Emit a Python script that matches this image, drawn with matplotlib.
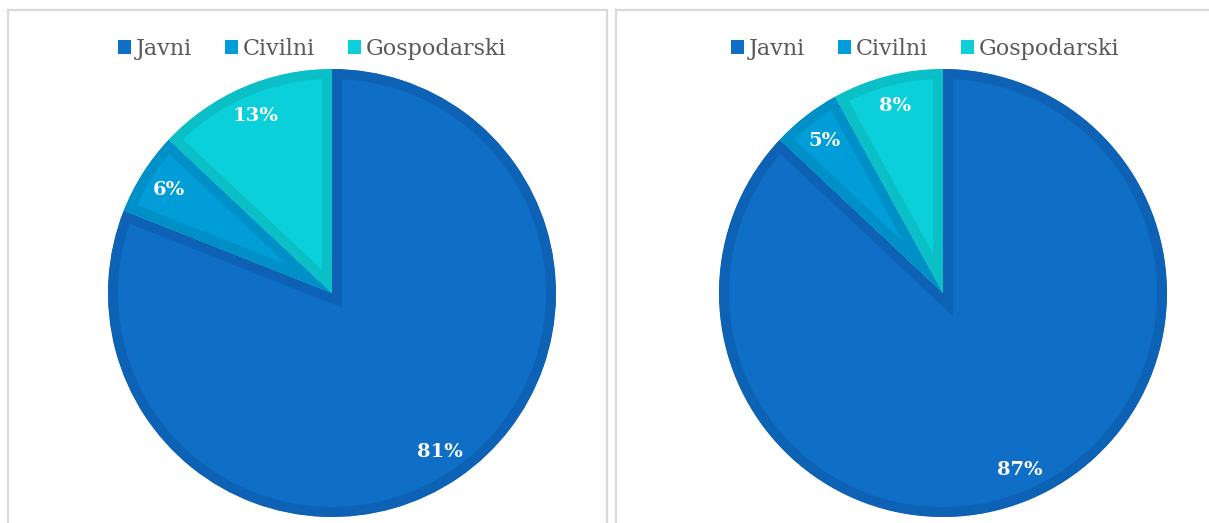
import matplotlib
matplotlib.use("Agg")
import matplotlib.pyplot as plt
from matplotlib.patches import Rectangle, Patch

# data
categories = ["Javni", "Civilni", "Gospodarski"]
left_values = [81, 6, 13]
right_values = [87, 5, 8]

fill_colors = ["#0F6FC6", "#009DD9", "#0BD0D9"]
edge_colors = ["#0D62B5", "#0090C8", "#0ABFC6"]

W, H = 1209, 523
fig = plt.figure(figsize=(W / 100, H / 100), dpi=100)
plt.rcParams["font.family"] = ["DejaVu Serif"]


def px(x, y, w, h):
    # pixel box (top-left origin) -> figure fraction
    return [x / W, 1 - (y + h) / H, w / W, h / H]


# panel frames
for x0, x1 in [(8, 607), (616, 1240)]:
    fig.patches.append(Rectangle((x0 / W, -0.1), (x1 - x0) / W, (H - 10) / H + 0.1,
                                 transform=fig.transFigure, fill=False,
                                 edgecolor="#D9D9D9", linewidth=1.6))


def draw_pie(values, center_x, legend_x):
    r = 224
    ax = fig.add_axes(px(center_x - r, 293 - r, 2 * r, 2 * r))
    wedges, texts, autotexts = ax.pie(
        values, colors=fill_colors, startangle=90, counterclock=False,
        radius=1.0, autopct=lambda p: f"{p:.0f}%", pctdistance=0.86,
        wedgeprops=dict(linewidth=14.4, joinstyle="miter"),
        textprops=dict(color="white", fontsize=14, fontweight="bold"))
    # inset border: clip each wedge's stroke to the wedge itself
    for w, ec in zip(wedges, edge_colors):
        w.set_edgecolor(ec)
        w.set_clip_on(True)
        w.set_clip_path(w)
    ax.set_xlim(-1, 1)
    ax.set_ylim(-1, 1)
    ax.set_aspect("equal")
    ax.axis("off")

    handles = [Patch(facecolor=c, edgecolor="none") for c in fill_colors]
    fig.legend(handles, categories, loc="center", ncol=3,
               bbox_to_anchor=(legend_x / W, 1 - 49 / H), frameon=False,
               fontsize=16, labelcolor="#595959", handlelength=0.6,
               handleheight=0.6, handletextpad=0.2, columnspacing=1.5)


draw_pie(left_values, 332, 312)
draw_pie(right_values, 943, 925)

plt.savefig("out.png", dpi=100)
